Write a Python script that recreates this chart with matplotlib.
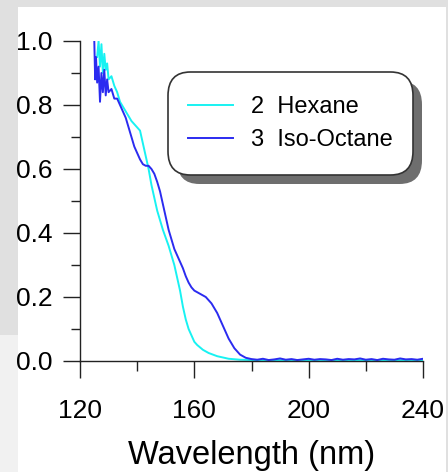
import matplotlib.pyplot as plt
from matplotlib.patches import Rectangle, FancyBboxPatch
from matplotlib.ticker import MultipleLocator

plt.rcParams['font.family'] = ['Liberation Sans', 'DejaVu Sans']

# Hexane absorbance
hexane_wl = [126, 126.5, 127, 127.5, 128, 128.5, 129, 129.5, 130, 131, 132, 133, 134,
             136, 138, 140, 141, 142, 143, 144, 145, 147, 149, 151, 153, 155, 156, 157,
             158, 159, 160, 161, 163, 165, 168, 172, 176, 180, 190, 200, 210, 220, 230, 240]
hexane_abs = [0.95, 1.0, 0.92, 0.99, 0.90, 0.96, 0.91, 0.93, 0.88, 0.89, 0.86, 0.84, 0.81,
              0.78, 0.75, 0.73, 0.72, 0.68, 0.64, 0.60, 0.55, 0.47, 0.41, 0.36, 0.30, 0.22, 0.17, 0.13,
              0.10, 0.08, 0.06, 0.05, 0.035, 0.025, 0.015, 0.007, 0.004, 0.003, 0.003, 0.003, 0.003,
              0.003, 0.003, 0.003]

# Iso-octane absorbance
octane_wl = [125, 125.3, 125.6, 126, 126.5, 127, 127.5, 128, 128.5, 129, 129.5, 130, 131, 132,
             133, 134, 135, 136, 137, 138, 139, 140, 141, 142, 143, 144, 145, 146, 147, 148, 149,
             150, 151, 152, 153, 154, 155, 156, 157, 158, 159, 160, 161, 162, 163, 164, 165, 166,
             167, 168, 169, 170, 171, 172, 173, 174, 175, 176, 177, 178, 179,
             180, 182, 184, 186, 188, 190, 192, 194, 196, 198, 200, 202, 204, 206, 208, 210,
             212, 214, 216, 218, 220, 222, 224, 226, 228, 230, 232, 234, 236, 238, 240]
octane_abs = [1.0, 0.88, 0.95, 0.87, 0.92, 0.81, 0.90, 0.84, 0.91, 0.83, 0.88, 0.84, 0.85, 0.82,
              0.82, 0.80, 0.78, 0.76, 0.73, 0.70, 0.67, 0.65, 0.63, 0.615, 0.61, 0.61, 0.60, 0.585,
              0.56, 0.53, 0.49, 0.45, 0.41, 0.38, 0.35, 0.33, 0.31, 0.29, 0.265, 0.245, 0.23, 0.22,
              0.215, 0.21, 0.205, 0.20, 0.19, 0.18, 0.165, 0.15, 0.13, 0.11, 0.09, 0.07, 0.055,
              0.04, 0.03, 0.02, 0.015, 0.01, 0.008,
              0.006, 0.004, 0.007, 0.003, 0.005, 0.008, 0.004, 0.006, 0.003, 0.005, 0.007, 0.004,
              0.006, 0.005, 0.003, 0.007, 0.004, 0.006, 0.005, 0.008, 0.004, 0.006, 0.003, 0.007,
              0.005, 0.004, 0.008, 0.005, 0.006, 0.004, 0.007]

series_labels = ['2  Hexane', '3  Iso-Octane']
x_ticks = [120, 160, 200, 240]
y_ticks = [0.0, 0.2, 0.4, 0.6, 0.8, 1.0]

W, H = 448, 472
fig = plt.figure(figsize=(W / 100, H / 100), dpi=100)
fig.patch.set_facecolor('#e0e0e0')

# screenshot-like backdrop: grey strips round a white panel
fig.patches.append(Rectangle((0, 0), 18 / W, 1 - 335 / H, transform=fig.transFigure,
                             facecolor='#f1f1f1', edgecolor='none', zorder=-2))
fig.patches.append(Rectangle((18 / W, 0), 428 / W, 1 - 7 / H, transform=fig.transFigure,
                             facecolor='white', edgecolor='none', zorder=-2))

ax = fig.add_axes([80 / W, 1 - 361 / H, 343 / W, 320 / H])
ax.set_facecolor('none')
ax.set_zorder(1)

ax.plot(hexane_wl, hexane_abs, color='#18f2f2', lw=1.4, label=series_labels[0])
ax.plot(octane_wl, octane_abs, color='#2b2bf0', lw=1.4, label=series_labels[1])

ax.set_xlim(120, 240)
ax.set_ylim(0, 1.0)
ax.set_xticks(x_ticks)
ax.set_yticks(y_ticks)
ax.set_yticklabels([f'{v:.1f}' for v in y_ticks])
ax.xaxis.set_minor_locator(MultipleLocator(20))
ax.yaxis.set_minor_locator(MultipleLocator(0.1))

for side in ['top', 'right']:
    ax.spines[side].set_visible(False)
for side in ['left', 'bottom']:
    ax.spines[side].set_color('#222222')
    ax.spines[side].set_linewidth(1.0)

ax.tick_params(which='major', length=12.5, width=1.0, color='#222222', labelsize=19)
ax.tick_params(which='minor', length=6.5, width=1.0, color='#222222')
ax.tick_params(axis='y', which='major', pad=7)
ax.tick_params(axis='x', which='major', pad=15)
ax.tick_params(axis='x', which='minor', length=7.5)

ax.set_xlabel('Wavelength (nm)', fontsize=23.5, labelpad=12)

# rounded legend box with a heavy drop shadow
bx0, by0, bw, bh = 168, 72, 245, 103
ax.add_patch(FancyBboxPatch(((bx0 + 9) / W, 1 - (by0 + bh + 9) / H), bw / W, bh / H,
                            boxstyle='round,pad=0,rounding_size=0.05',
                            transform=fig.transFigure, facecolor='#6e6e6e',
                            edgecolor='none', zorder=3, clip_on=False))
ax.add_patch(FancyBboxPatch((bx0 / W, 1 - (by0 + bh) / H), bw / W, bh / H,
                            boxstyle='round,pad=0,rounding_size=0.05',
                            transform=fig.transFigure, facecolor='white',
                            edgecolor='#333333', linewidth=1.2, zorder=4, clip_on=False))

leg = ax.legend(loc='center', bbox_to_anchor=((bx0 + bw / 2) / W, 1 - (by0 + bh / 2) / H),
                bbox_transform=fig.transFigure, frameon=False, fontsize=17,
                handlelength=1.9, handletextpad=0.75, labelspacing=0.45)
leg.set_zorder(5)

fig.savefig('out.png', dpi=100)
